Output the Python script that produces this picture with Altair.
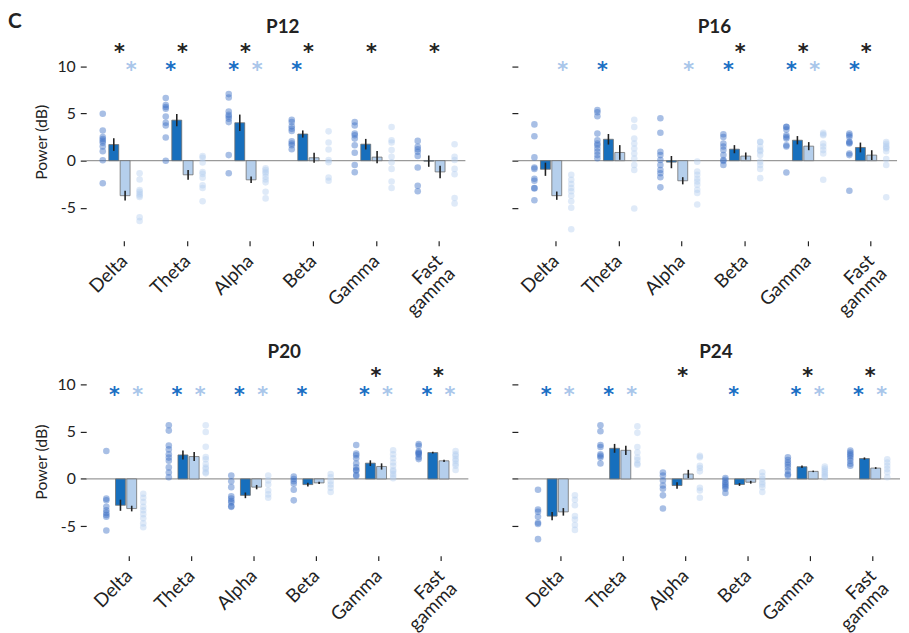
import altair as alt
import pandas as pd

FONT = "Lato"
BANDS = ["Delta", "Theta", "Alpha", "Beta", "Gamma", "Fast gamma"]

# ---- bar means and SEM ----
P12_DARK_MEAN = [1.71, 4.30, 4.02, 2.83, 1.75, -0.05]
P12_DARK_SEM = [0.67, 0.65, 0.87, 0.38, 0.56, 0.60]
P12_LIGHT_MEAN = [-3.71, -1.50, -2.03, 0.31, 0.38, -1.19]
P12_LIGHT_SEM = [0.52, 0.52, 0.35, 0.54, 0.66, 0.66]

P16_DARK_MEAN = [-0.91, 2.27, -0.15, 1.22, 2.17, 1.40]
P16_DARK_SEM = [0.70, 0.56, 0.65, 0.43, 0.44, 0.52]
P16_LIGHT_MEAN = [-3.71, 0.87, -2.13, 0.49, 1.54, 0.59]
P16_LIGHT_SEM = [0.44, 0.78, 0.38, 0.38, 0.43, 0.52]

P20_DARK_MEAN = [-2.79, 2.54, -1.74, -0.60, 1.67, 2.79]
P20_DARK_SEM = [0.59, 0.47, 0.30, 0.20, 0.30, 0.10]
P20_LIGHT_MEAN = [-3.14, 2.37, -0.87, -0.42, 1.32, 1.92]
P20_LIGHT_SEM = [0.30, 0.47, 0.23, 0.12, 0.33, 0.12]

P24_DARK_MEAN = [-3.94, 3.24, -0.70, -0.59, 1.29, 2.16]
P24_DARK_SEM = [0.44, 0.47, 0.35, 0.15, 0.12, 0.12]
P24_LIGHT_MEAN = [-3.49, 3.03, 0.52, -0.35, 0.80, 1.15]
P24_LIGHT_SEM = [0.40, 0.49, 0.44, 0.15, 0.08, 0.10]

# ---- individual points ----
P12_DARK_DOTS = [
    [4.97, 3.2, 2.5, 2.3, 2.1, 1.9, 1.5, 1.0, 0.05, -2.4],
    [6.64, 5.91, 5.7, 5.5, 4.69, 4.02, 3.74, 2.45, 0.0],
    [7.06, 6.71, 5.21, 4.86, 4.69, 4.44, 4.09, 0.59, -1.33],
    [4.34, 4.09, 3.64, 3.39, 3.15, 2.06, 1.82, 1.64, 1.22],
    [4.09, 3.74, 2.87, 2.69, 2.34, 1.64, 0.84, -0.45, -1.22],
    [2.1, 1.47, 1.22, 0.94, 0.49, -0.73, -2.66, -3.25],
]
P12_LIGHT_DOTS = [
    [-1.33, -2.0, -3.1, -3.3, -3.5, -3.7, -3.85, -6.0, -6.4],
    [0.5, 0.3, -0.2, -1.2, -1.4, -1.8, -2.6, -2.9, -4.3],
    [-0.8, -1.0, -1.2, -1.35, -1.7, -2.0, -2.3, -3.3, -4.0],
    [3.11, 1.92, 1.19, 0.07, -0.17, -1.78, -2.13],
    [3.57, 2.17, 1.92, 1.12, 0.42, -0.17, -0.87, -2.2, -2.9],
    [1.75, 0.42, 0.07, -0.87, -1.43, -3.95, -4.55],
]
P16_DARK_DOTS = [
    [3.85, 2.59, 0.35, -0.73, -0.87, -1.92, -2.13, -2.9, -2.94, -4.2],
    [5.38, 5.14, 4.72, 2.87, 2.17, 1.82, 1.64, 1.3, 0.94, 0.59, 0.25],
    [4.51, 2.97, 0.94, 0.59, 0.07, -0.45, -0.98, -1.33, -1.75, -2.83],
    [2.8, 2.52, 1.82, 1.5, 1.12, 0.59, 0.07, -0.03, -0.45],
    [3.6, 3.57, 3.3, 2.69, 2.5, 2.34, 1.64, 1.5, -1.26],
    [2.87, 2.7, 2.52, 2.0, 1.9, 1.82, 0.77, 0.59, -3.18],
]
P16_LIGHT_DOTS = [
    [-1.5, -2.03, -2.48, -2.9, -3.25, -3.71, -4.3, -5.0, -7.27],
    [4.34, 3.57, 2.34, 1.82, 1.29, 0.77, 0.24, -0.45, -0.98, -5.07],
    [-0.1, -1.15, -1.5, -1.92, -2.2, -2.55, -3.08, -3.43, -4.65],
    [2.0, 1.99, 1.47, 1.12, 1.0, 0.59, -0.1, -0.45, -0.87, -1.85],
    [2.97, 2.8, 2.69, 1.82, 1.5, 1.12, 0.77, -2.03],
    [1.99, 1.8, 1.57, 1.4, 1.29, 1.0, 0.17, -0.45, -3.88],
]
P20_DARK_DOTS = [
    [2.96, -2.09, -2.26, -2.96, -3.31, -3.6, -3.83, -4.01, -5.47],
    [5.68, 5.12, 3.55, 3.13, 2.61, 2.26, 1.92, 1.22, 0.69, 0.17],
    [0.35, -0.24, -0.87, -1.85, -2.09, -2.34, -2.5, -2.9, -2.96],
    [0.24, 0.0, -0.24, -0.52, -1.15, -2.27],
    [3.59, 2.68, 2.5, 2.19, 1.64, 1.22, 0.94, 0.9, 0.42, 0.3],
    [3.7, 3.5, 2.9, 2.8, 2.7, 2.6, 2.3, 2.1],
]
P20_LIGHT_DOTS = [
    [-1.57, -1.99, -2.44, -2.96, -3.31, -3.73, -4.18, -4.71, -5.12],
    [5.68, 4.98, 3.41, 2.33, 2.09, 1.57, 1.2, 1.04, 0.7, 0.59],
    [0.35, -0.17, -0.59, -1.22, -1.64, -1.99],
    [0.52, 0.17, -0.24, -0.59, -0.94, -1.39],
    [3.03, 2.61, 2.19, 1.74, 1.39, 0.94, 0.8, 0.52, 0.3, 0.07],
    [2.96, 2.6, 2.44, 2.1, 1.92, 1.6, 1.39, 0.94],
]
P24_DARK_DOTS = [
    [-1.15, -3.24, -3.49, -4.01, -4.64, -4.78, -6.38],
    [5.68, 5.05, 3.59, 3.38, 2.6, 2.44, 2.26, 1.64],
    [0.69, 0.35, -0.17, -0.7, -1.05, -1.74, -3.14],
    [0.1, -0.1, -0.35, -0.5, -0.7, -0.85, -1.05, -1.5],
    [2.3, 2.0, 1.74, 1.5, 1.22, 0.87, 0.5, 0.35],
    [3.0, 2.8, 2.6, 2.44, 2.2, 1.92, 1.6, 1.39],
]
P24_LIGHT_DOTS = [
    [-1.74, -2.2, -2.79, -3.94, -4.29, -4.88, -5.4],
    [5.58, 4.88, 3.38, 2.79, 2.26, 2.0, 1.64, 1.5],
    [2.44, 2.3, 1.39, 1.15, 0.8, -0.94, -1.22, -1.99],
    [0.7, 0.3, 0.0, -0.35, -0.6, -0.87, -1.39],
    [1.3, 1.1, 0.9, 0.7, 0.5, 0.3, 0.17],
    [2.09, 1.74, 1.39, 1.04, 0.7, 0.17],
]

# ---- significance stars (1 = shown) ----
P12_STAR_BLACK = [1, 1, 1, 1, 1, 1]
P12_STAR_DARK = [0, 1, 1, 1, 0, 0]
P12_STAR_LIGHT = [1, 0, 1, 0, 0, 0]
P16_STAR_BLACK = [0, 0, 0, 1, 1, 1]
P16_STAR_DARK = [0, 1, 0, 1, 1, 1]
P16_STAR_LIGHT = [1, 0, 1, 0, 1, 0]
P20_STAR_BLACK = [0, 0, 0, 0, 1, 1]
P20_STAR_DARK = [1, 1, 1, 1, 1, 1]
P20_STAR_LIGHT = [1, 1, 1, 0, 1, 1]
P24_STAR_BLACK = [0, 0, 1, 0, 1, 1]
P24_STAR_DARK = [1, 1, 0, 1, 1, 1]
P24_STAR_LIGHT = [1, 1, 0, 0, 1, 1]

Y_TICKS = [-5, 0, 5, 10]

DARK_BAR = "#176fbd"
LIGHT_BAR = "#b5cfec"
DARK_DOT = "#3f72c6"
LIGHT_DOT = "#b3cdee"
STAR_DARK = "#1a6fc4"
STAR_LIGHT = "#a9c6ea"
INK = "#222222"


def panel(name, dm, ds, lm, ls, ddots, ldots, sb, sd, sl, row, left):
    if row == 0:
        xdom, W, ydom, H = [0.551, 6.413], 383, [-8.5, 12.5], 200
        off_dd, off_ld, tick_off = -0.265, 0.32, 0.07
        y_black, y_col = 11.65, 9.76
        c_x = -79
    else:
        xdom, W, ydom, H = [0.441, 6.40], 386, [-8.13, 11.8], 190
        off_dd, off_ld, tick_off = -0.316, 0.275, 0.04
        y_black, y_col = 11.0, 9.03
        c_x = -78

    xs = alt.Scale(domain=xdom, nice=False, zero=False)
    ys = alt.Scale(domain=ydom, nice=False, zero=False)
    label_list = "['Delta','Theta','Alpha','Beta','Gamma',['Fast','gamma']]"
    xaxis = alt.Axis(
        values=[i + 1 + tick_off for i in range(6)],
        labelExpr=label_list + "[round(datum.value) - 1]",
        labelAngle=315, labelAlign="right", labelBaseline="middle",
        labelFontSize=19, labelFont=FONT, labelColor=INK, labelPadding=12,
        labelLineHeight=18,
        labelOverlap=False, labelFlush=False, labelBound=False,
        tickSize=5, tickColor=INK, tickWidth=1.2,
        domain=False, grid=False, title=None,
    )
    if left:
        yaxis = alt.Axis(
            values=Y_TICKS, labelExpr="'' + datum.value",
            labelFontSize=16, labelFont=FONT, labelColor=INK, labelPadding=5,
            tickSize=6, tickColor=INK, tickWidth=1.2,
            domain=False, grid=False, title="Power (dB)",
            titleFont=FONT, titleFontSize=16, titleFontWeight="normal",
            titleColor=INK, titlePadding=8,
        )
    else:
        yaxis = alt.Axis(
            values=Y_TICKS, labels=False, tickSize=6, tickColor=INK,
            tickWidth=1.2, domain=False, grid=False, title=None,
        )

    def X(f):
        return alt.X(f, type="quantitative", scale=xs, axis=xaxis)

    def Y(f):
        return alt.Y(f, type="quantitative", scale=ys, axis=yaxis)

    dots = []
    for i in range(6):
        for v in ddots[i]:
            dots.append({"x": i + 1 + off_dd, "v": v, "c": DARK_DOT, "o": 0.45})
        for v in ldots[i]:
            dots.append({"x": i + 1 + off_ld, "v": v, "c": LIGHT_DOT, "o": 0.42})
    dots = pd.DataFrame(dots)

    bars = []
    for i in range(6):
        bars.append({"x": i + 1 - 0.09, "m": dm[i], "z": 0.0,
                     "lo": dm[i] - ds[i], "hi": dm[i] + ds[i], "c": DARK_BAR})
        bars.append({"x": i + 1 + 0.09, "m": lm[i], "z": 0.0,
                     "lo": lm[i] - ls[i], "hi": lm[i] + ls[i], "c": LIGHT_BAR})
    bars = pd.DataFrame(bars)

    stars = []
    for i in range(6):
        if sb[i]:
            stars.append({"x": i + 1, "y": y_black, "c": INK})
        if sd[i]:
            stars.append({"x": i + 1 - 0.185, "y": y_col, "c": STAR_DARK})
        if sl[i]:
            stars.append({"x": i + 1 + 0.185, "y": y_col, "c": STAR_LIGHT})
    stars = pd.DataFrame(stars)

    zero = alt.Chart(pd.DataFrame({"z": [0.0]})).mark_rule(
        color="#9a9a9a", strokeWidth=1.3
    ).encode(y=Y("z"))

    dot_layer = alt.Chart(dots).mark_circle(size=44, stroke=None).encode(
        x=X("x"), y=Y("v"),
        color=alt.Color("c:N", scale=None),
        opacity=alt.Opacity("o:Q", scale=None),
    )
    bar_layer = alt.Chart(bars).mark_bar(
        size=10, stroke="#6f6f6f", strokeWidth=0.8
    ).encode(
        x=X("x"), y=Y("m"), y2="z",
        color=alt.Color("c:N", scale=None),
    )
    err_layer = alt.Chart(bars).mark_rule(color=INK, strokeWidth=1.6).encode(
        x=X("x"), y=Y("lo"), y2="hi"
    )
    star_layer = alt.Chart(stars).mark_text(
        text="*", fontSize=21, font="DejaVu Sans", fontWeight="bold",
        baseline="middle", dy=2,
    ).encode(x=X("x"), y=Y("y"), color=alt.Color("c:N", scale=None))

    title_layer = alt.Chart(pd.DataFrame({"t": [name]})).mark_text(
        fontSize=19, font=FONT, fontWeight="bold", align="center",
        baseline="middle", color=INK,
    ).encode(x=alt.value(W / 2 + 7), y=alt.value(-16), text="t:N")

    c_layer = alt.Chart(pd.DataFrame({"t": ["C"]})).mark_text(
        fontSize=21, font=FONT, fontWeight="bold", align="left",
        baseline="middle", color=(INK if row == 0 else "white"),
    ).encode(x=alt.value(c_x), y=alt.value(-21), text="t:N")

    layers = [zero, dot_layer, bar_layer, err_layer, star_layer, title_layer]
    if left:
        layers.append(c_layer)

    return alt.layer(*layers).properties(width=W, height=H)


p12 = panel("P12", P12_DARK_MEAN, P12_DARK_SEM, P12_LIGHT_MEAN, P12_LIGHT_SEM,
            P12_DARK_DOTS, P12_LIGHT_DOTS, P12_STAR_BLACK, P12_STAR_DARK,
            P12_STAR_LIGHT, 0, True)
p16 = panel("P16", P16_DARK_MEAN, P16_DARK_SEM, P16_LIGHT_MEAN, P16_LIGHT_SEM,
            P16_DARK_DOTS, P16_LIGHT_DOTS, P16_STAR_BLACK, P16_STAR_DARK,
            P16_STAR_LIGHT, 0, False)
p20 = panel("P20", P20_DARK_MEAN, P20_DARK_SEM, P20_LIGHT_MEAN, P20_LIGHT_SEM,
            P20_DARK_DOTS, P20_LIGHT_DOTS, P20_STAR_BLACK, P20_STAR_DARK,
            P20_STAR_LIGHT, 1, True)
p24 = panel("P24", P24_DARK_MEAN, P24_DARK_SEM, P24_LIGHT_MEAN, P24_LIGHT_SEM,
            P24_DARK_DOTS, P24_LIGHT_DOTS, P24_STAR_BLACK, P24_STAR_DARK,
            P24_STAR_LIGHT, 1, False)

top = alt.hconcat(p12, p16, spacing=45)
bottom = alt.hconcat(p20, p24, spacing=42)

chart = alt.vconcat(top, bottom, spacing=16).properties(
    padding={"left": 0, "top": 0, "right": 0, "bottom": 0},
    background="white",
).configure_view(stroke=None)

chart.save("out.html", embed_options={"renderer": "svg", "actions": False})
